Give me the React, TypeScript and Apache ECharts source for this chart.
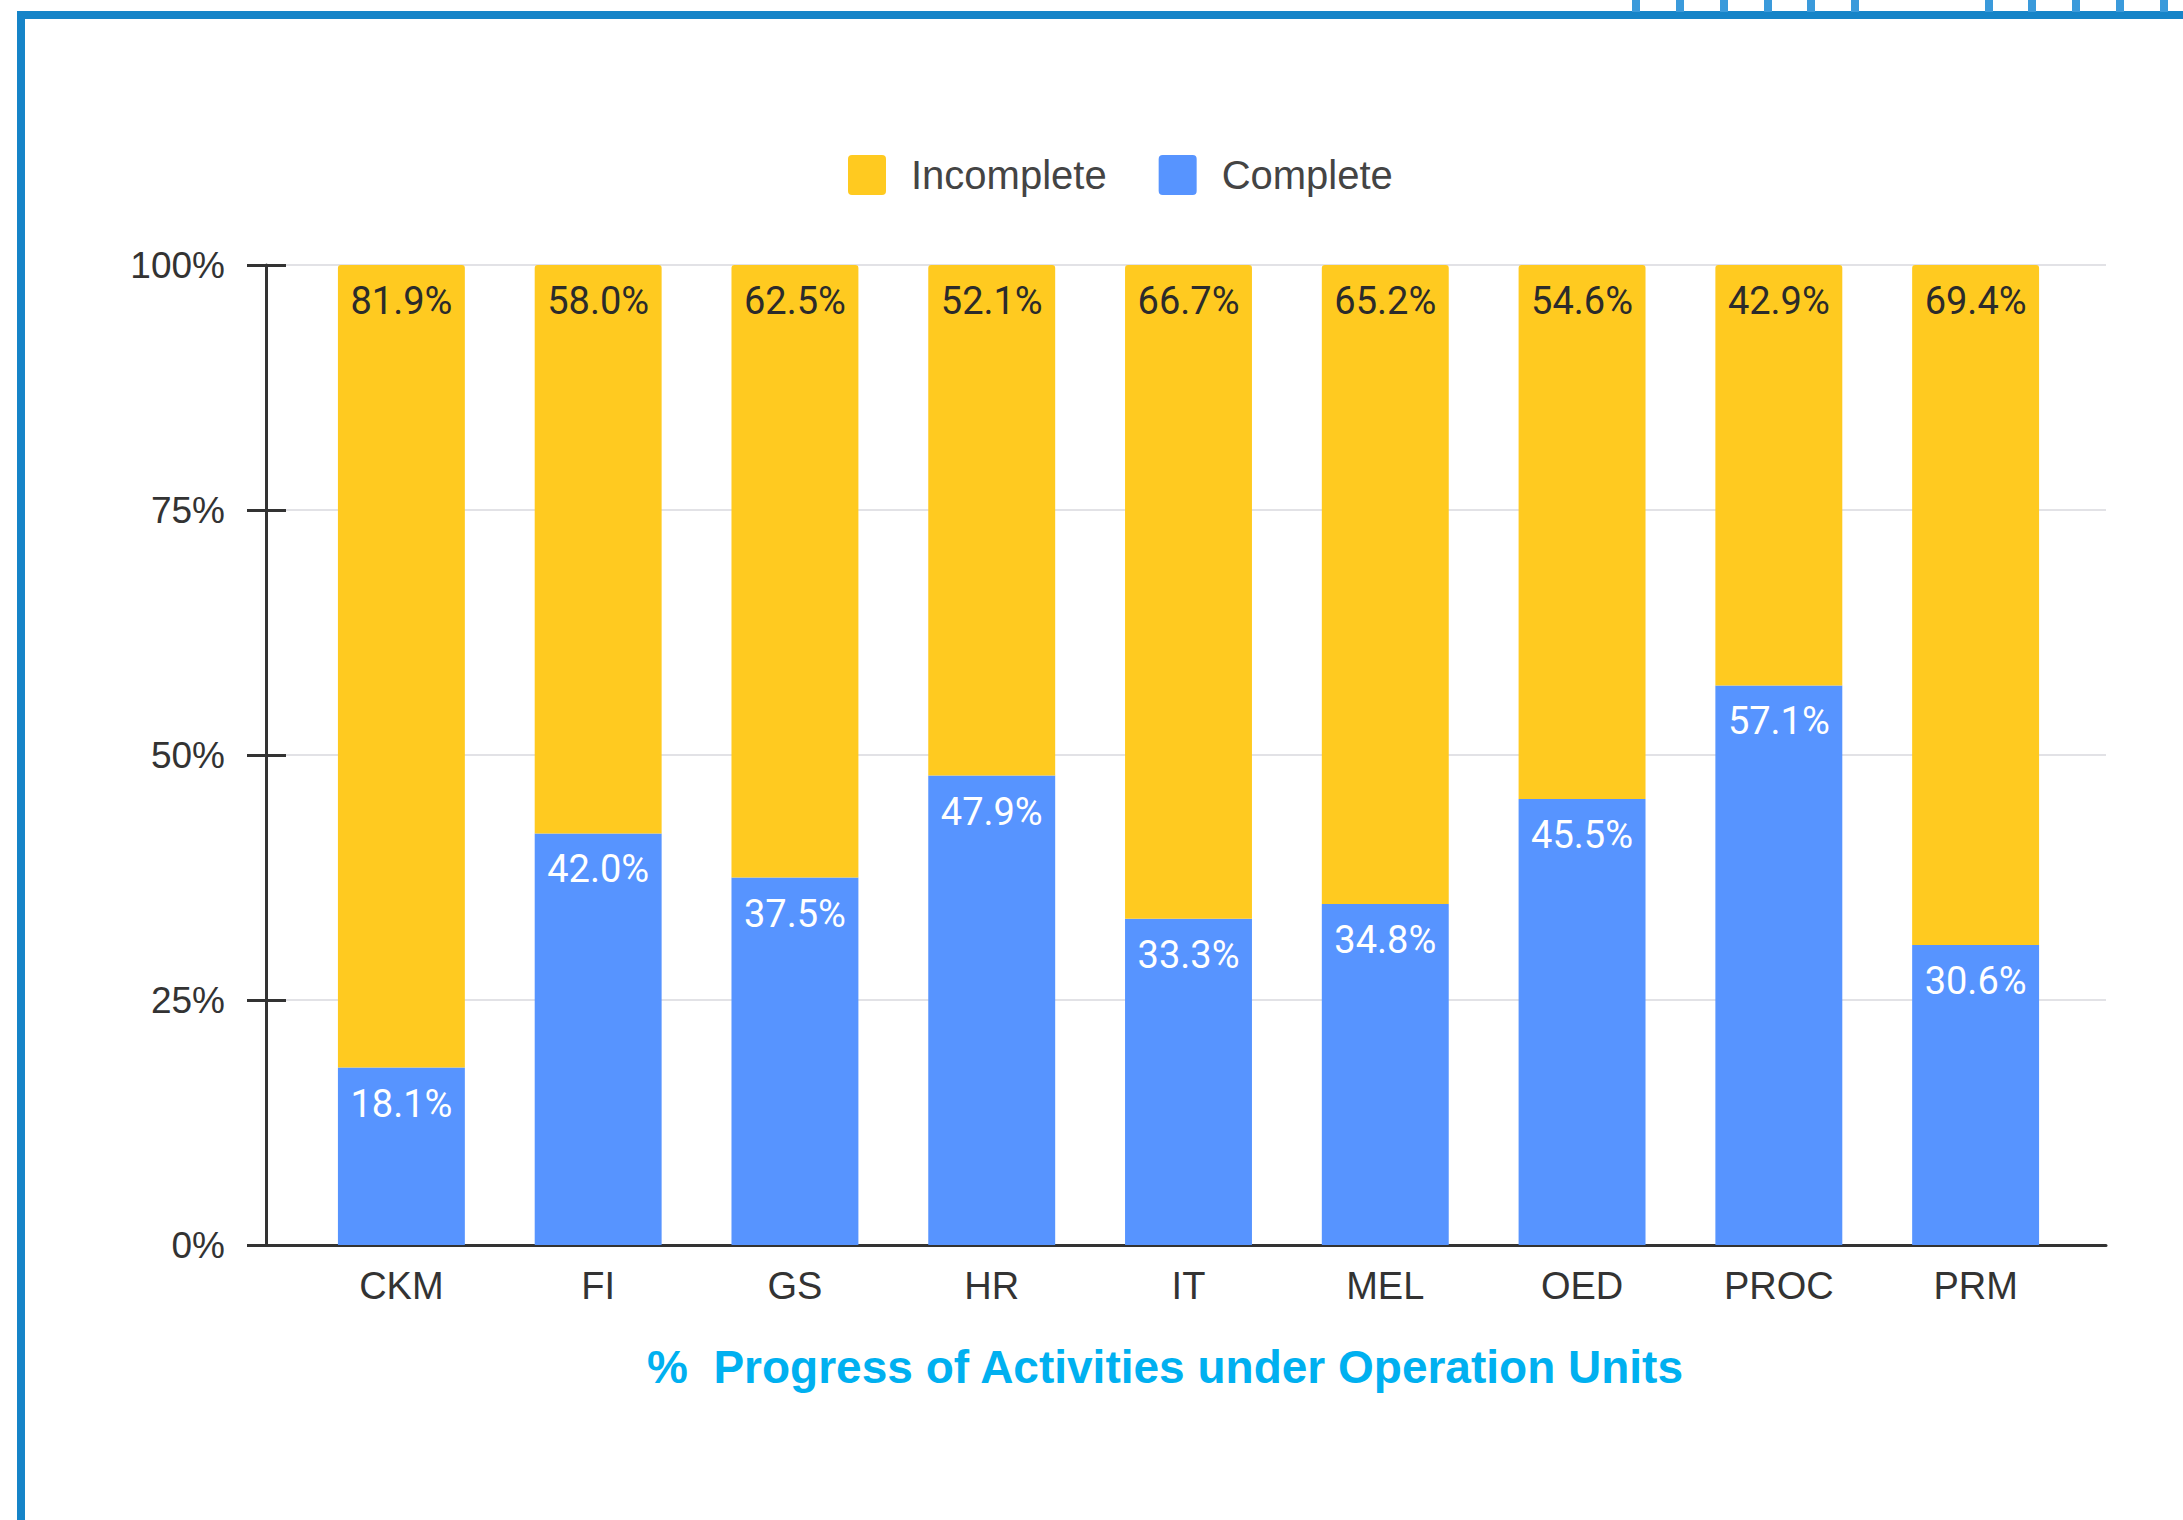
import React, { useEffect, useRef } from "react";
import * as echarts from "echarts";

const categories = ["CKM", "FI", "GS", "HR", "IT", "MEL", "OED", "PROC", "PRM"];
const complete = [18.1, 42.0, 37.5, 47.9, 33.3, 34.8, 45.5, 57.1, 30.6];
const incomplete = [81.9, 58.0, 62.5, 52.1, 66.7, 65.2, 54.6, 42.9, 69.4];
const yTicks = [0, 25, 50, 75, 100];
const titleText = "%  Progress of Activities under Operation Units";

// decorative tab marks above the frame's top border
const tabMarks = [1632, 1676, 1720, 1764, 1807, 1851, 1985, 2028, 2072, 2116, 2160];

const YELLOW = "#FFCA20";
const BLUE = "#5794FF";
const AXIS = "#333333";
const FONT = "'Liberation Sans', Arial, sans-serif";
const LEGEND_ICON = "path://M4,0 H34 Q38,0 38,4 V36 Q38,40 34,40 H4 Q0,40 0,36 V4 Q0,0 4,0 Z";

export default function App() {
  const ref = useRef<HTMLDivElement>(null);
  useEffect(() => {
    if (!ref.current) return;
    const chart = echarts.init(ref.current, null, { renderer: "svg" });
    const yMin = yTicks[0];
    const yMax = yTicks[yTicks.length - 1];
    const yInt = yTicks[1] - yTicks[0];
    chart.setOption({
      animation: false,
      backgroundColor: "#ffffff",
      title: {
        text: titleText,
        left: 1160,
        textAlign: "center",
        top: 1339,
        textStyle: { color: "#00B0F0", fontSize: 46, fontWeight: "bold", fontFamily: FONT },
      },
      legend: {
        left: 843,
        top: 150,
        itemWidth: 38,
        itemHeight: 40,
        itemGap: 52,
        icon: LEGEND_ICON,
        data: ["Incomplete", "Complete"],
        textStyle: { color: "#444444", fontSize: 40, fontFamily: FONT, padding: [0, 0, 0, 20] },
      },
      grid: [
        { left: 266, right: 77, top: 265, bottom: 275 },
        { left: 303, right: 109, top: 265, bottom: 275 },
      ],
      xAxis: [
        {
          type: "value",
          gridIndex: 0,
          min: 0,
          max: 1,
          axisLine: { show: true, lineStyle: { color: AXIS, width: 3 } },
          axisTick: { show: false },
          axisLabel: { show: false },
          splitLine: { show: false },
        },
        {
          type: "category",
          gridIndex: 1,
          data: categories,
          axisLine: { show: false },
          axisTick: { show: false },
          axisLabel: { margin: 22, color: "#333333", fontSize: 38, fontFamily: FONT },
        },
      ],
      yAxis: [
        {
          type: "value",
          gridIndex: 0,
          min: yMin,
          max: yMax,
          interval: yInt,
          axisLine: { show: true, lineStyle: { color: AXIS, width: 3 } },
          axisTick: { show: true, length: 19, lineStyle: { color: AXIS, width: 3 } },
          axisLabel: {
            margin: 41,
            color: "#333333",
            fontSize: 37,
            fontFamily: FONT,
            formatter: (v: number) => `${v}%`,
          },
          splitLine: { show: true, lineStyle: { color: "#E2E2E6", width: 2 } },
        },
        {
          type: "value",
          gridIndex: 0,
          position: "left",
          min: yMin,
          max: yMax,
          interval: yInt,
          axisLine: { show: false },
          axisTick: { show: true, inside: true, length: 20, lineStyle: { color: AXIS, width: 3 } },
          axisLabel: { show: false },
          splitLine: { show: false },
        },
        {
          type: "value",
          gridIndex: 1,
          min: yMin,
          max: yMax,
          show: false,
        },
      ],
      series: [
        {
          name: "Complete",
          type: "bar",
          stack: "total",
          xAxisIndex: 1,
          yAxisIndex: 2,
          barWidth: "64.5%",
          data: complete,
          itemStyle: { color: BLUE },
          label: {
            show: true,
            position: "insideTop",
            distance: 17,
            color: "#ffffff",
            fontSize: 38,
            fontFamily: "Roboto, sans-serif",
            formatter: (p: any) => `${Number(p.value).toFixed(1)}%`,
          },
        },
        {
          name: "Incomplete",
          type: "bar",
          stack: "total",
          xAxisIndex: 1,
          yAxisIndex: 2,
          barWidth: "64.5%",
          data: incomplete,
          itemStyle: { color: YELLOW, borderRadius: [3, 3, 0, 0] },
          label: {
            show: true,
            position: "insideTop",
            distance: 17,
            color: "#2B2B2B",
            fontSize: 38,
            fontFamily: "Roboto, sans-serif",
            formatter: (p: any) => `${Number(p.value).toFixed(1)}%`,
          },
        },
      ],
      graphic: [
        { type: "rect", shape: { x: 17, y: 11, width: 8, height: 1509 }, style: { fill: "#1584C8" } },
        { type: "rect", shape: { x: 17, y: 11, width: 2166, height: 8 }, style: { fill: "#1584C8" } },
        ...tabMarks.map((x) => ({
          type: "rect",
          shape: { x, y: 0, width: 8, height: 12 },
          style: { fill: "#3A9ADB" },
        })),
      ],
    });
    return () => chart.dispose();
  }, []);
  return (
    <div
      ref={ref}
      style={{ position: "fixed", left: 0, top: 0, width: 2183, height: 1520, background: "#fff" }}
    />
  );
}
